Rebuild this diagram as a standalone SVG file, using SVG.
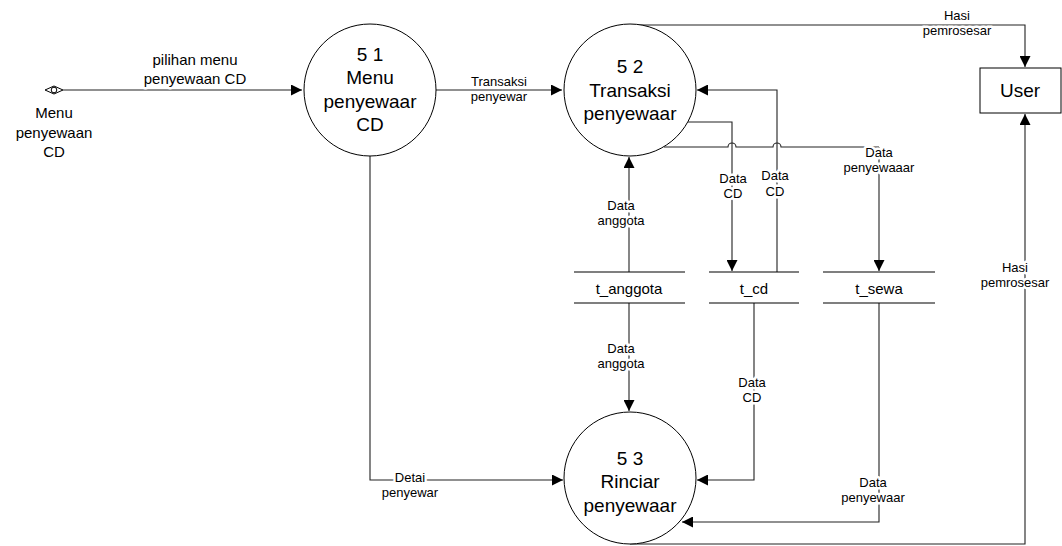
<svg xmlns="http://www.w3.org/2000/svg" width="1062" height="546" viewBox="0 0 1062 546">
<style>
text{font-family:"Liberation Sans",Arial,sans-serif;fill:#000;text-anchor:middle}
.proc{fill:#fff;stroke:#000;stroke-width:1}
.pt{font-size:19px}
.lbl{font-size:13px;stroke:#fff;stroke-width:5px;paint-order:stroke;stroke-linejoin:round}
.big{font-size:15px}
.ln{fill:none;stroke:#222;stroke-width:1.1}
.arr{marker-end:url(#ah)}
.store{stroke:#000;stroke-width:1.1}
</style>
<defs>
<marker id="ah" viewBox="0 0 10 10" refX="10" refY="5" markerWidth="11" markerHeight="11" markerUnits="userSpaceOnUse" orient="auto">
<path d="M0,0 L10,5 L0,10 z" fill="#000"/>
</marker>
</defs>
<g id="connectors">
<path class="ln arr" d="M63,90 L302,90"/>
<path class="ln arr" d="M436,90 L562,90"/>
<path class="ln arr" d="M630,25 L1025,25 L1025,67"/>
<path class="ln arr" d="M630,544 L1025,544 L1025,114"/>
<path class="ln arr" d="M629,272 L629,157"/>
<path class="ln arr" d="M629,303 L629,411"/>
<path class="ln arr" d="M688,122 L732,122 L732,271"/>
<path class="ln arr" d="M777,272 L777,90 L697,90"/>
<path class="ln" d="M664,147 L728,147 A4,4 0 0 1 736,147 L773,147 A4,4 0 0 1 781,147 L879,147"/>
<path class="ln arr" d="M879,147 L879,271"/>
<path class="ln arr" d="M754,303 L754,480 L697,480"/>
<path class="ln arr" d="M879,303 L879,522 L682,522"/>
<path class="ln arr" d="M370,156 L370,480 L563,480"/>
<text class="lbl big" x="195" y="65">pilihan menu</text>
<text class="lbl big" x="195" y="84">penyewaan CD</text>
<text class="lbl" x="499" y="86">Transaksi</text>
<text class="lbl" x="499" y="101">penyewar</text>
<text class="lbl" x="957" y="20">Hasi</text>
<text class="lbl" x="957" y="35">pemrosesar</text>
<text class="lbl" x="1015" y="272">Hasi</text>
<text class="lbl" x="1015" y="287">pemrosesar</text>
<text class="lbl" x="879" y="157">Data</text>
<text class="lbl" x="879" y="172">penyewaaar</text>
<text class="lbl" x="733" y="183">Data</text>
<text class="lbl" x="733" y="198">CD</text>
<text class="lbl" x="775" y="180">Data</text>
<text class="lbl" x="775" y="196">CD</text>
<text class="lbl" x="621" y="210">Data</text>
<text class="lbl" x="621" y="225">anggota</text>
<text class="lbl" x="621" y="353">Data</text>
<text class="lbl" x="621" y="368">anggota</text>
<text class="lbl" x="752" y="387">Data</text>
<text class="lbl" x="752" y="402">CD</text>
<text class="lbl" x="873" y="487">Data</text>
<text class="lbl" x="873" y="502">penyewaar</text>
<text class="lbl" x="410" y="482">Detai</text>
<text class="lbl" x="410" y="497">penyewar</text>
</g>
<g id="source-menu">
<path d="M45,90 L54,86 L63,90 L54,94 z" fill="#fff" stroke="#000" stroke-width="1"/>
<circle cx="54" cy="90" r="2.8" fill="#fff" stroke="#000" stroke-width="1"/>
<text class="big" x="54" y="118">Menu</text>
<text class="big" x="54" y="138">penyewaan</text>
<text class="big" x="54" y="157">CD</text>
</g>
<g id="p51">
<circle class="proc" cx="370" cy="90" r="66"/>
<text class="pt" x="370" y="61">5 1</text>
<text class="pt" x="370" y="84">Menu</text>
<text class="pt" x="370" y="108">penyewaar</text>
<text class="pt" x="370" y="131">CD</text>
</g>
<g id="p52">
<circle class="proc" cx="630" cy="90" r="66"/>
<text class="pt" x="630" y="73">5 2</text>
<text class="pt" x="630" y="97">Transaksi</text>
<text class="pt" x="630" y="120">penyewaar</text>
</g>
<g id="p53">
<circle class="proc" cx="630" cy="478" r="66"/>
<text class="pt" x="630" y="465">5 3</text>
<text class="pt" x="630" y="488">Rinciar</text>
<text class="pt" x="630" y="512">penyewaar</text>
</g>
<g id="user">
<rect x="980" y="68" width="81" height="45" fill="#fff" stroke="#000" stroke-width="1"/>
<text x="1020" y="97" style="font-size:19px">User</text>
</g>
<g id="t_anggota">
<line class="store" x1="574" y1="272" x2="685" y2="272"/>
<line class="store" x1="574" y1="303" x2="685" y2="303"/>
<text x="629" y="294" style="font-size:15px">t_anggota</text>
</g>
<g id="t_cd">
<line class="store" x1="709" y1="272" x2="799" y2="272"/>
<line class="store" x1="709" y1="303" x2="799" y2="303"/>
<text x="754" y="294" style="font-size:15px">t_cd</text>
</g>
<g id="t_sewa">
<line class="store" x1="823" y1="272" x2="935" y2="272"/>
<line class="store" x1="823" y1="303" x2="935" y2="303"/>
<text x="879" y="294" style="font-size:15px">t_sewa</text>
</g>
</svg>
